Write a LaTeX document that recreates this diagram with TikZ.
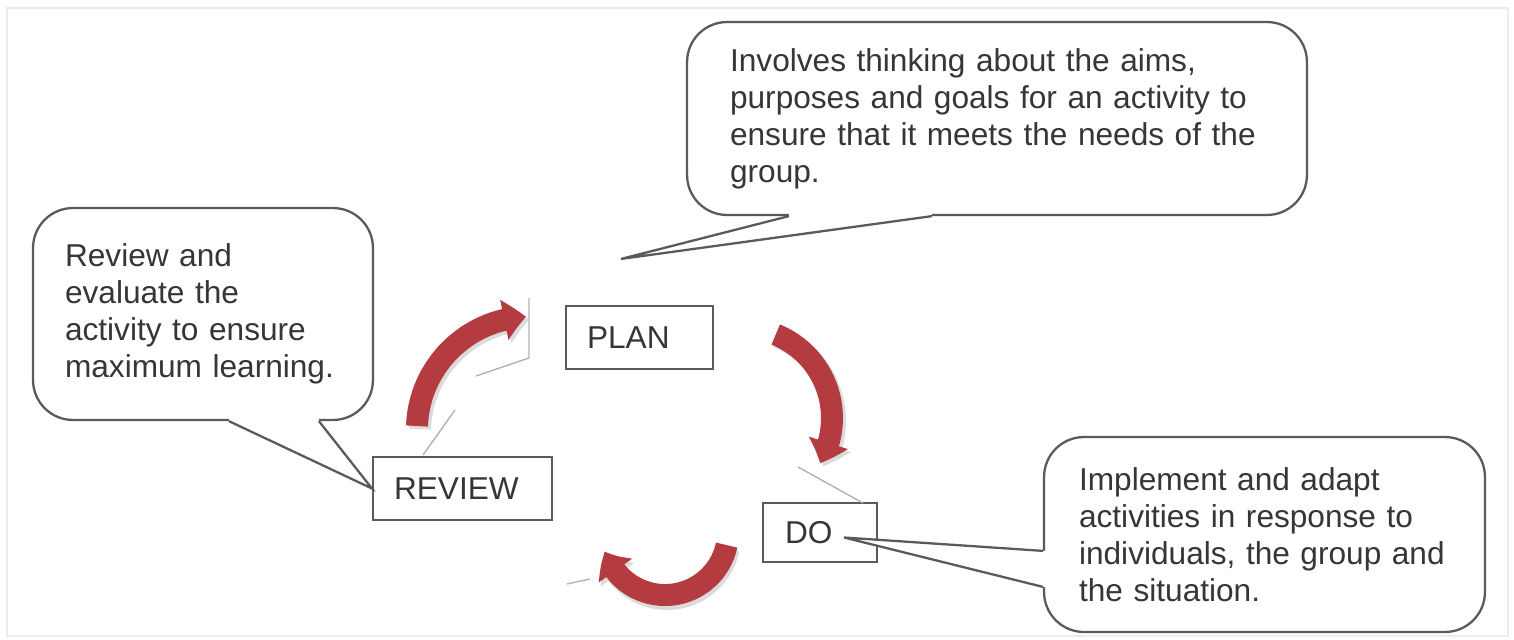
\documentclass[tikz,border=0pt]{standalone}
\usepackage{fontspec}
\setmainfont{Liberation Sans}
\usetikzlibrary{arrows.meta,bending,calc,positioning}

\definecolor{cycred}{HTML}{B43B40}
\definecolor{notegray}{HTML}{5A5A5A}
\definecolor{inkgray}{HTML}{363636}
\newcommand{\notefont}{\fontsize{18}{21}\selectfont}

\begin{document}
\begin{tikzpicture}[
  x=0.02cm, y=-0.02cm,
  font=\notefont, text=inkgray,
  note/.style={draw=notegray, line width=1.3pt, rounded corners=0.8cm, fill=white, align=left, inner ysep=0pt},
  stage/.style={draw=notegray, line width=1.2pt, fill=white, align=left, inner xsep=0.42cm, inner ysep=0pt, minimum height=1.26cm},
  notetail/.style={draw=notegray, line width=1.3pt},
  cyc/.style={draw=cycred, line width=12.5pt, -{Triangle[bend, length=0pt 1.0, width=0pt 1.8]}},
  cycshade/.style={draw=gray!28, line width=12.5pt, -{Triangle[bend, length=0pt 1.0, width=0pt 1.8]}},
  cycedge/.style={draw=gray!60, line width=0.8pt},
]
  \useasboundingbox (0,0) rectangle (1514,639);
  \draw[gray!15, line width=1pt] (7,8) rectangle (1508,636);

  % the three stages
  \node[stage, text width=2.1cm] (plan) at (639.5,337.5) {PLAN};
  \node[stage, text width=2.74cm] (review) at (462.5,488.5) {REVIEW};
  \node[stage, text width=1.40cm, inner xsep=0.44cm, minimum height=1.18cm] (do) at (820,532.5) {DO};

  % curved arrows of the cycle
  \coordinate (rvarc) at (417,426);
  \coordinate (pdarc) at (775.7,334.6);
  \coordinate (drarc) at (726.6,545.1);
  \draw[cycshade] ($(rvarc)+(3,3)$) arc[start angle=182, end angle=268, radius=113];
  \draw[cycshade] ($(pdarc)+(3,3)$) arc[start angle=292, end angle=390, radius=90];
  \draw[cycshade] ($(drarc)+(2,4)$) arc[start angle=12, end angle=162, radius=63];
  \draw[cyc] (rvarc) arc[start angle=182, end angle=268, radius=113];
  \draw[cyc] (pdarc) arc[start angle=292, end angle=390, radius=90];
  \draw[cyc] (drarc) arc[start angle=12, end angle=162, radius=63];
  \draw[cycedge] (455,410) -- (423,455);
  \draw[cycedge] (529,298) -- (529,358) -- (476,376);
  \draw[cycedge] (798,467) -- (863,503);
  \draw[cycedge] (567,584) -- (590,579);

  % callouts
  \node[note, minimum width=12.4cm, minimum height=3.86cm, text width=10.68cm, inner xsep=0.86cm] (plannote) at (997,118.5) {
    Involves thinking about the aims,\\
    purposes and goals for an activity to\\
    ensure that it meets the needs of the\\
    group.
  };
  \node[note, minimum width=6.8cm, minimum height=4.24cm, text width=5.52cm, inner xsep=0.64cm] (reviewnote) at (203,314) {
    Review and\\
    evaluate the\\
    activity to ensure\\
    maximum learning.
  };
  \node[note, minimum width=8.82cm, minimum height=3.9cm, text width=7.42cm, inner xsep=0.7cm] (donote) at (1264.5,534.5) {
    Implement and adapt\\
    activities in response to\\
    individuals, the group and\\
    the situation.
  };

  \coordinate (plantip) at ($(plan.north west)+(56,-46)$);
  \coordinate (dotip) at ($(do.east)+(-34,5)$);

  \fill[white] ($(plannote.south west)+(103,-3)$) -- ($(plannote.south west)+(103,0)$) -- (plantip)
    -- ($(plannote.south west)+(246,0)$) -- ($(plannote.south west)+(246,-3)$) -- cycle;
  \draw[notetail] ($(plannote.south west)+(103,0)$) -- (plantip) -- ($(plannote.south west)+(246,0)$);

  \fill[white] ($(reviewnote.south west)+(197,-3)$) -- ($(reviewnote.south west)+(197,0)$) -- (review.west)
    -- ($(reviewnote.south west)+(287,0)$) -- ($(reviewnote.south west)+(287,-3)$) -- cycle;
  \draw[notetail] ($(reviewnote.south west)+(197,0)$) -- (review.west) -- ($(reviewnote.south west)+(287,0)$);

  \fill[white] ($(donote.north west)+(3,115)$) -- ($(donote.north west)+(0,115)$) -- (dotip)
    -- ($(donote.north west)+(0,151)$) -- ($(donote.north west)+(3,151)$) -- cycle;
  \draw[notetail] ($(donote.north west)+(0,115)$) -- (dotip) -- ($(donote.north west)+(0,151)$);
\end{tikzpicture}
\end{document}
